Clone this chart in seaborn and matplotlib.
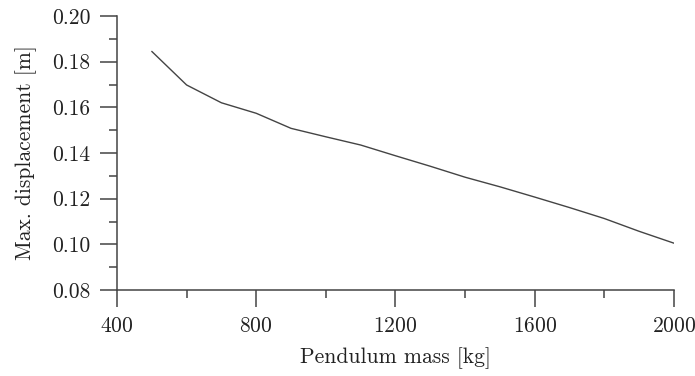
import numpy as np
import pandas as pd
import matplotlib
matplotlib.use('Agg')
import matplotlib.pyplot as plt
import seaborn as sns
from matplotlib.ticker import MultipleLocator, FormatStrFormatter

# pendulum mass [kg] and max displacement [m]
mass = [500, 600, 700, 800, 900, 1000, 1100, 1200, 1300, 1400,
        1500, 1600, 1700, 1800, 1900, 2000]
disp = [0.1845, 0.1698, 0.1620, 0.1574, 0.1508, 0.1471, 0.1435, 0.1388, 0.1342, 0.1294,
        0.1252, 0.1207, 0.1161, 0.1113, 0.1057, 0.1005]

df = pd.DataFrame({'mass': mass, 'disp': disp})

sns.set_style('ticks')
plt.rcParams['font.family'] = ['cmr10', 'DejaVu Serif']
plt.rcParams['mathtext.fontset'] = 'cm'
plt.rcParams['axes.formatter.use_mathtext'] = True

fig = plt.figure(figsize=(6.95, 3.76), dpi=100)
ax = fig.add_axes([0.1683, 0.2287, 0.8015, 0.7287])

sns.lineplot(x='mass', y='disp', data=df, ax=ax, color='#444444', linewidth=1.0)

ax.set_xlim(400, 2000)
ax.set_ylim(0.08, 0.20)
ax.xaxis.set_major_locator(MultipleLocator(400))
ax.xaxis.set_minor_locator(MultipleLocator(200))
ax.yaxis.set_major_locator(MultipleLocator(0.02))
ax.yaxis.set_minor_locator(MultipleLocator(0.01))
ax.yaxis.set_major_formatter(FormatStrFormatter('%.2f'))

for s in ['top', 'right']:
    ax.spines[s].set_visible(False)
for s in ['left', 'bottom']:
    ax.spines[s].set_color('#444444')
    ax.spines[s].set_linewidth(1.1)

ax.tick_params(which='major', direction='out', length=12, width=1.1, color='#444444',
               pad=7, labelsize=15.5, labelcolor='#222222')
ax.tick_params(which='minor', direction='out', length=5.5, width=1.1, color='#444444')

ax.set_xlabel('Pendulum mass [kg]', fontsize=15.5, color='#222222', labelpad=8)
ax.set_ylabel('Max. displacement [m]', fontsize=15.5, color='#222222', labelpad=11)

fig.savefig('out.png', dpi=100)
